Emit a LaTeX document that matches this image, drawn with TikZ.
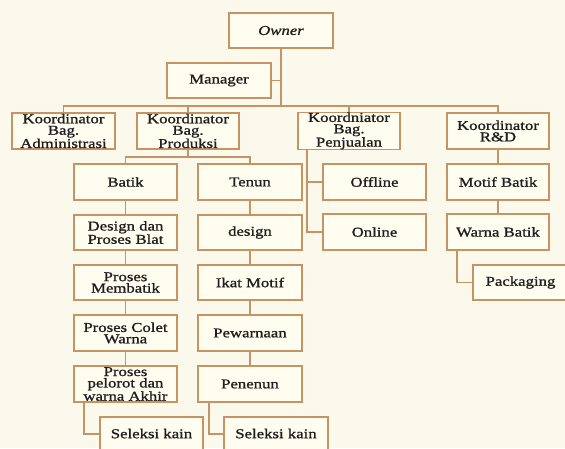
\documentclass[tikz,border=0pt]{standalone}
\usepackage{fontspec}
\setmainfont{Liberation Serif}[FakeStretch=1.24,FakeBold=1.1]
\definecolor{bgc}{HTML}{FBF9EC}
\definecolor{boxc}{HTML}{FFFCF0}
\definecolor{linec}{HTML}{C69464}
\definecolor{txtc}{HTML}{1E1E1E}
\tikzset{
  orgbox/.style={draw=linec, line width=1.6pt, fill=boxc, inner sep=0pt, align=center,
    text=txtc, font=\fontsize{13.5}{11.4}\selectfont},
  conn/.style={draw=linec, line width=1.6pt}
}
\newcommand{\bx}[6]{\node[orgbox, minimum width={(#4-#2)*1pt}, minimum height={(#5-#3)*1pt}] (#1) at ({(#2+#4)/2},{(#3+#5)/2}) {#6};}
\begin{document}
\begin{tikzpicture}[x=1pt,y=-1pt]
\useasboundingbox (0,0) rectangle (565,448);
\clip (0,0) rectangle (565,448);
\fill[bgc] (0,0) rectangle (565,448);
\coordinate (bus) at (0,106);
\coordinate (pbus) at (0,157);
\bx{owner}{229}{13}{333}{48}{\itshape Owner}
\bx{manager}{167}{63}{271}{98}{Manager}
\bx{admin}{12}{113}{115}{149}{Koordinator\\Bag.\\Administrasi}
\bx{produksi}{137}{113}{239}{149}{Koordinator\\Bag.\\Produksi}
\bx{penjualan}{298}{113}{400}{149}{Koordniator\\Bag.\\Penjualan}
\bx{rnd}{447}{113}{549}{149}{Koordinator\\R\&D}
\bx{batik}{74}{164}{177}{200}{Batik}
\bx{tenun}{198}{164}{302}{200}{Tenun}
\bx{dbatik}{74}{215}{177}{250}{Design dan\\Proses Blat}
\bx{design}{198}{215}{302}{250}{design}
\bx{membatik}{74}{265}{177}{300}{Proses\\Membatik}
\bx{ikat}{198}{265}{302}{300}{Ikat Motif}
\bx{colet}{74}{315}{177}{351}{Proses Colet\\Warna}
\bx{pewarnaan}{198}{315}{302}{351}{Pewarnaan}
\bx{pelorot}{74}{366}{177}{402}{Proses\\pelorot dan\\warna Akhir}
\bx{penenun}{198}{366}{302}{402}{Penenun}
\bx{sel1}{100}{417}{203}{455}{\raisebox{5pt}{Seleksi kain}}
\bx{sel2}{224}{417}{328}{455}{\raisebox{5pt}{Seleksi kain}}
\bx{offline}{323}{164}{426}{200}{Offline}
\bx{online}{323}{214}{426}{250}{Online}
\bx{motif}{447}{164}{549}{200}{Motif Batik}
\bx{warna}{447}{214}{549}{250}{Warna Batik}
\bx{packaging}{473}{265}{576}{300}{\hspace*{-8pt}Packaging}
% connectors
\draw[conn] (owner.south) -- (owner.south |- bus);
\draw[conn] (manager.east) -- (manager.east -| owner.south);
\draw[conn] (admin.north) -- (admin.north |- bus) -- (rnd.north |- bus) -- (rnd.north);
\draw[conn] (produksi.north |- bus) -- (produksi.north);
\draw[conn] (penjualan.north |- bus) -- (penjualan.north);
\draw[conn] (produksi.south) -- (produksi.south |- pbus);
\draw[conn] (batik.north) -- (batik.north |- pbus) -- (tenun.north |- pbus) -- (tenun.north);
\draw[conn] (batik.south) -- (dbatik.north);
\draw[conn] (dbatik.south) -- (membatik.north);
\draw[conn] (membatik.south) -- (colet.north);
\draw[conn] (colet.south) -- (pelorot.north);
\draw[conn] (tenun.south) -- (design.north);
\draw[conn] (design.south) -- (ikat.north);
\draw[conn] (ikat.south) -- (pewarnaan.north);
\draw[conn] (pewarnaan.south) -- (penenun.north);
\draw[conn] ([xshift=11pt]pelorot.south west) |- ([yshift=2pt]sel1.west);
\draw[conn] ([xshift=12pt]penenun.south west) |- ([yshift=2pt]sel2.west);
\draw[conn] ([xshift=10pt]penjualan.south west) |- (offline.west);
\draw[conn] ([xshift=10pt]penjualan.south west) |- (online.west);
\draw[conn] (rnd.south) -- (motif.north);
\draw[conn] (motif.south) -- (warna.north);
\draw[conn] ([xshift=11pt]warna.south west) |- (packaging.west);
\end{tikzpicture}
\end{document}
